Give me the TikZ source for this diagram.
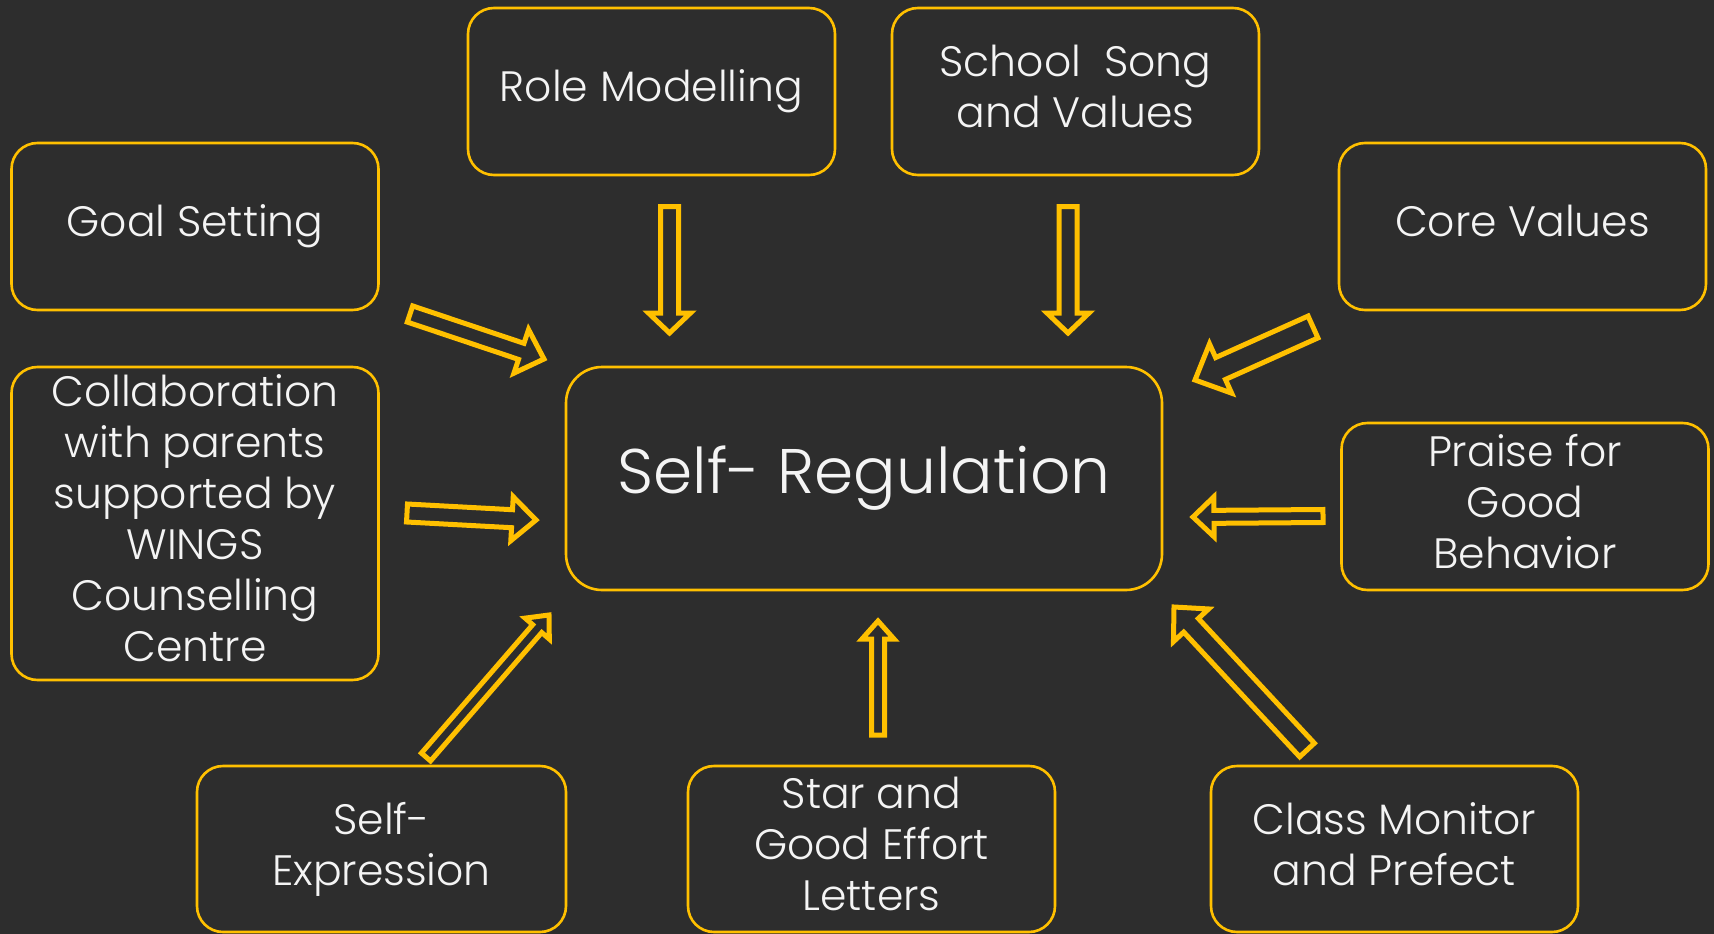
\documentclass[tikz,border=0pt]{standalone}
\usepackage{fontspec}
\setmainfont{Poppins Light}
\usetikzlibrary{calc}

\definecolor{board}{HTML}{2D2D2D}
\definecolor{gold}{HTML}{FFC000}
\definecolor{chalk}{HTML}{F4F4F4}

% Hollow block arrow from #1 (tail) to #2 (tip):
% #3 half shaft width, #4 half head width, #5 head length (all in pt)
\newcommand\hollowarrow[5]{%
  \path let \p1=($(#2)-(#1)$) in \pgfextra{%
    \pgfmathsetmacro\hwang{atan2(\y1,\x1)}%
    \pgfmathsetmacro\hwlen{veclen(\x1,\y1)}%
    \xdef\harrang{\hwang}\xdef\harrlen{\hwlen}};
  \begin{scope}[shift={(#1)}, rotate=\harrang]
    \draw[arrowline] (0pt,-#3pt) -- ({\harrlen pt-#5pt},-#3pt) -- ({\harrlen pt-#5pt},-#4pt)
      -- (\harrlen pt,0pt) -- ({\harrlen pt-#5pt},#4pt) -- ({\harrlen pt-#5pt},#3pt)
      -- (0pt,#3pt) -- cycle;
  \end{scope}}
% descender room on the last line so every label sits alike
\newcommand\dsc{\vphantom{p}}

\tikzset{
  box/.style={draw=gold, line width=2.6pt, rounded corners=26pt,
    minimum width=367pt, minimum height=167pt, inner sep=0pt,
    text=chalk, align=center, font=\fontsize{42.5}{51}\selectfont},
  hub/.style={box, rounded corners=36pt, minimum width=596pt, minimum height=223pt,
    font=\fontsize{63}{72}\selectfont},
  arrowline/.style={draw=gold, line width=5pt, line join=miter, miter limit=10}
}

\begin{document}
\begin{tikzpicture}[x=1pt, y=-1pt]
  \useasboundingbox (0,0) rectangle (1714,934);
  \fill[board] (0,0) rectangle (1714,934);

  % boxes
  \node[hub] (self) at (864,478.5) {Self- Regulation};
  \node[box] (role) at (651.5,91.5) {Role Modelling};
  \node[box] (song) at (1075.5,91.5) {School \ Song\\and Values\dsc};
  \node[box] (goal) at (195,226.5) {Goal Setting};
  \node[box] (core) at (1522.5,226.5) {Core Values\dsc};
  \node[box, minimum height=313pt] (collab) at (195,523.5)
    {Collaboration\\with parents\\supported by\\WINGS\\Counselling\\Centre\dsc};
  \node[box] (praise) at (1525,506.5) {Praise for\\Good\\Behavior\dsc};
  \node[box, minimum width=369pt, minimum height=166pt] (expr) at (381.5,849) {Self-\\Expression};
  \node[box, minimum height=166pt] (star) at (871.5,849) {Star and\\Good Effort\\Letters\dsc};
  \node[box, minimum height=166pt] (monitor) at (1394.5,849) {Class Monitor\\and Prefect\dsc};

  % arrow ends
  \coordinate (goal-t) at (410,314);   \coordinate (goal-h) at (544,359);
  \coordinate (role-t) at (669.5,206.5); \coordinate (role-h) at (669.5,333);
  \coordinate (song-t) at (1068,206.5); \coordinate (song-h) at (1068,333);
  \coordinate (core-t) at (1313,327);  \coordinate (core-h) at (1195,380);
  \coordinate (collab-t) at (407,513); \coordinate (collab-h) at (536,520);
  \coordinate (praise-t) at (1323,516); \coordinate (praise-h) at (1193,517);
  \coordinate (expr-t) at (426,757);   \coordinate (expr-h) at (549,615);
  \coordinate (star-t) at (878,735);   \coordinate (star-h) at (878,621);
  \coordinate (monitor-t) at (1307,750); \coordinate (monitor-h) at (1174,607);

  % arrows
  \hollowarrow{goal-t}{goal-h}{8.5}{23}{24}
  \hollowarrow{role-t}{role-h}{9}{21}{20}
  \hollowarrow{song-t}{song-h}{9}{21}{20}
  \hollowarrow{core-t}{core-h}{12}{27}{28}
  \hollowarrow{collab-t}{collab-h}{9}{22}{24}
  \hollowarrow{praise-t}{praise-h}{6.5}{20}{21}
  \hollowarrow{expr-t}{expr-h}{6}{16}{18}
  \hollowarrow{star-t}{star-h}{6.5}{16}{18}
  \hollowarrow{monitor-t}{monitor-h}{10}{24}{25}
\end{tikzpicture}
\end{document}
